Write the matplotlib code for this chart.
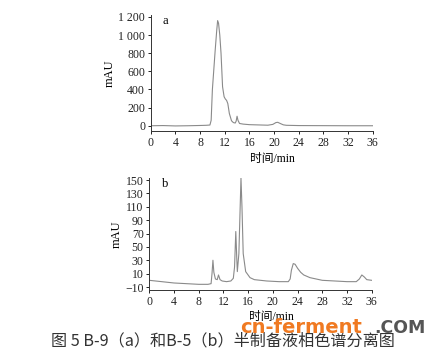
import matplotlib.pyplot as plt

plt.rcParams['font.family'] = ['Liberation Serif', 'Noto Sans CJK SC']

# chromatogram a (B-9)
t_a = [0, 2, 4, 6, 8, 9, 9.6, 9.8, 10.0, 10.45, 10.7, 10.85, 11.0, 11.2, 11.4, 11.65,
       11.9, 12.1, 12.3, 12.5, 12.75, 13.1, 13.4, 13.7, 13.85, 14.0, 14.15, 14.4, 15,
       16, 17, 18, 19, 19.8, 20.3, 20.6, 21, 21.5, 22, 24, 28, 32, 36]
mau_a = [0, 2, -2, 0, 3, 5, 8, 60, 400, 830, 1050, 1160, 1130, 1000, 800, 430,
         320, 295, 280, 245, 135, 55, 35, 30, 50, 105, 60, 25, 18,
         12, 10, 8, 6, 15, 35, 38, 25, 10, 5, 2, 1, 0, 0]

# chromatogram b (B-5)
t_b = [0, 2, 4, 6, 8, 9.5, 10.0, 10.15, 10.3, 10.45, 10.7, 11.0, 11.2, 11.45, 11.8,
       12.5, 13.2, 13.6, 13.8, 14.0, 14.15, 14.25, 14.5, 14.65, 14.84, 15.0, 15.2,
       15.6, 16.3, 17, 19, 21, 22.5, 22.8, 23.0, 23.3, 23.6, 24, 24.5, 25, 26, 27,
       28, 30, 32, 33.5, 34.0, 34.4, 34.8, 35.2, 36]
mau_b = [0, -2, -4, -5, -6, -6, -5, 10, 30, 12, 2, 1, 8, 1, -1,
         -2, -1, 3, 20, 73, 35, 13, 40, 90, 153, 110, 40,
         13, 4, 1, -1, -2, -2, 2, 15, 25, 24, 18, 12, 8, 4, 2,
         0, -1, -2, -2, 2, 8, 5, 1, 0]

xticks = [0, 4, 8, 12, 16, 20, 24, 28, 32, 36]
yticks_a = [0, 200, 400, 600, 800, 1000, 1200]
ylabels_a = ['0', '200', '400', '600', '800', '1 000', '1 200']
yticks_b = [-10, 10, 30, 50, 70, 90, 110, 130, 150]
ylabels_b = ['\u221210', '10', '30', '50', '70', '90', '110', '130', '150']

line_c = '#8a8a8a'
fig = plt.figure(figsize=(4.45, 3.5), dpi=100)

ax1 = fig.add_axes([0.3387, 0.6257, 0.4989, 0.331])
ax2 = fig.add_axes([0.3355, 0.1714, 0.4998, 0.32])

for ax, t, y, yt, yl, ylim, lab in [
        (ax1, t_a, mau_a, yticks_a, ylabels_a, (-58, 1220), 'a'),
        (ax2, t_b, mau_b, yticks_b, ylabels_b, (-14.5, 153), 'b')]:
    ax.plot(t, y, color=line_c, lw=0.8)
    ax.set_xlim(0, 36)
    ax.set_ylim(*ylim)
    ax.set_xticks(xticks)
    ax.set_yticks(yt)
    ax.set_yticklabels(yl)
    for s in ['top', 'right']:
        ax.spines[s].set_visible(False)
    for s in ['left', 'bottom']:
        ax.spines[s].set_linewidth(0.7)
        ax.spines[s].set_color('#333333')
    ax.tick_params(labelsize=8.5, length=2.5, width=0.7, pad=1.5, colors='#222222')
    ax.set_ylabel('mAU', fontsize=9, labelpad=2)
    ax.set_xlabel('时间/min', fontsize=8.5, labelpad=1)
    ax.xaxis.set_label_coords(0.55, -0.19)
    ax.text(0.055, 1.0, lab, transform=ax.transAxes, fontsize=9, va='top')

fig.text(0.50, 0.026, '图 5 B-9（a）和B-5（b）半制备液相色谱分离图',
         ha='center', va='center', fontsize=11.6, color='#333333',
         family=['Noto Sans CJK SC', 'DejaVu Sans'])
fig.text(0.539, 0.049, 'cn-ferment', fontsize=14, fontweight='bold',
         color='#f07a22', family=['DejaVu Sans'], va='baseline')
fig.text(0.84, 0.049, '.COM', fontsize=12.5, fontweight='bold',
         color='#555555', family=['DejaVu Sans'], va='baseline')

fig.savefig('out.png', dpi=100)
